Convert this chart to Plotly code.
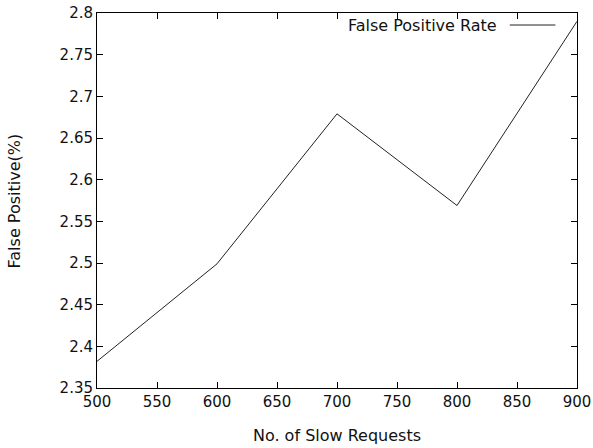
import plotly.graph_objects as go

slow_requests = [500, 600, 700, 800, 900]
false_positive = [2.382, 2.499, 2.679, 2.569, 2.79]
series_name = "False Positive Rate"
x_ticks = [500, 550, 600, 650, 700, 750, 800, 850, 900]
y_ticks = [2.35, 2.4, 2.45, 2.5, 2.55, 2.6, 2.65, 2.7, 2.75, 2.8]

FONT = "DejaVu Sans"
fig = go.Figure()
fig.add_trace(go.Scatter(x=slow_requests, y=false_positive, mode="lines",
                         line=dict(color="#222222", width=1), name=series_name,
                         showlegend=False))

axis_common = dict(showline=True, linecolor="black", linewidth=1, mirror="allticks",
                   ticks="inside", ticklen=6, tickcolor="black", showgrid=False,
                   zeroline=False, automargin=False, ticklabeloverflow="allow",
                   tickfont=dict(family=FONT, size=15, color="#111111"))

fig.update_xaxes(range=[500, 900], tickvals=x_ticks, ticktext=[str(v) for v in x_ticks],
                 title=dict(text="No. of Slow Requests", standoff=19,
                            font=dict(family=FONT, size=16, color="#111111")),
                 **axis_common)
fig.update_yaxes(range=[2.35, 2.8], tickvals=y_ticks,
                 ticktext=[f"{v:g}" for v in y_ticks],
                 **axis_common)

fig.add_annotation(xref="paper", yref="paper", x=-0.171, y=0.5, xanchor="center", yanchor="middle",
                   text="False Positive(%)", textangle=-90, showarrow=False,
                   font=dict(family=FONT, size=16, color="#111111"))

fig.add_annotation(xref="paper", yref="paper", x=0.838, y=0.968, xanchor="right", yanchor="middle",
                   text=series_name, showarrow=False,
                   font=dict(family=FONT, size=16, color="#111111"))
fig.add_shape(type="line", xref="paper", yref="paper", x0=0.86, x1=0.955, y0=0.968, y1=0.968,
              line=dict(color="#222222", width=1))

fig.update_layout(width=593, height=448, margin=dict(l=97, r=16, t=13, b=60),
                  paper_bgcolor="white", plot_bgcolor="white",
                  font=dict(family=FONT, size=15, color="#111111"))

fig.write_html("out.html", config={"displayModeBar": False},
               post_script="document.body.style.margin='0';document.body.style.overflow='hidden';")
